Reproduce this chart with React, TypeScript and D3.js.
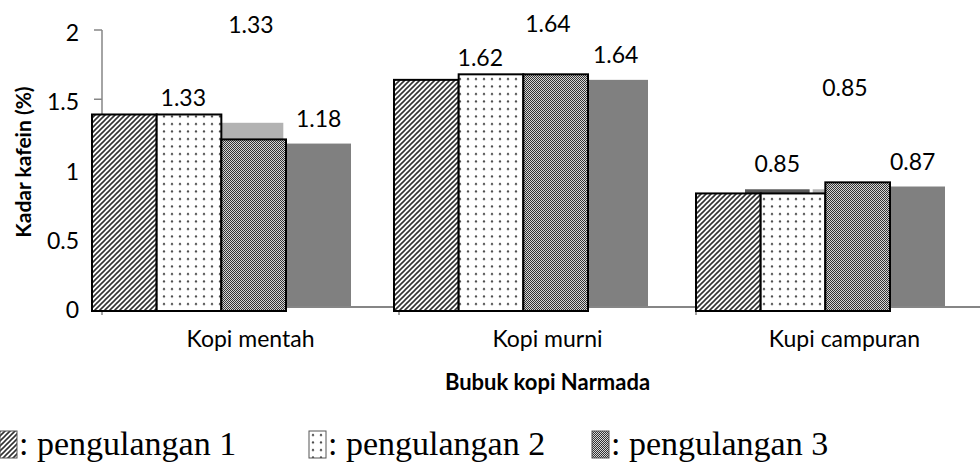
import React from "react";
import * as d3 from "d3";

// Excel bars (grey) underneath the hand drawn patterned boxes
const categories = ["Kopi mentah", "Kopi murni", "Kupi campuran"];
const seriesKeys = ["s1", "s2", "s3"];
const series1 = [1.33, 1.62, 0.85];
const series2 = [1.33, 1.64, 0.85];
const series3 = [1.18, 1.64, 0.87];

// patterned boxes drawn over the bars
const peng1 = [1.39, 1.64, 0.82];
const peng2 = [1.39, 1.68, 0.82];
const peng3 = [1.21, 1.68, 0.9];

const yTicks = [0, 0.5, 1, 1.5, 2];
const legendLabels = [": pengulangan 1", ": pengulangan 2", ": pengulangan 3"];

const W = 980;
const H = 463;
const axisColor = "#868686";
const greyFills = ["#595959", "#b2b2b2", "#808080"];
const patterns = ["url(#hatch)", "url(#dots)", "url(#checker)"];
const labelFont = "Lato, 'Open Sans', sans-serif";

const App = () => {
  const x0 = d3.scaleBand<string>().domain(categories).range([102, 993]);
  const xg = d3.scaleBand<string>().domain(seriesKeys).range([49, 249]).paddingInner(0.045);
  const xo = d3.scaleBand<string>().domain(categories).range([92, 998]);
  const xi = d3.scaleBand<string>().domain(seriesKeys).range([0, 194]);
  const y = d3.scaleLinear().domain([0, 2]).range([307, 30]);

  const grey = [series1, series2, series3];
  const over = [peng1, peng2, peng3];
  // labels of series 2 were dragged upward by hand in the original
  const labelLift = [
    [26, 26, 26],
    [99, 57, 102],
    [26, 26, 26],
  ];

  const legendX = [0, 309, 592];

  return (
    <svg width={W} height={H} style={{ position: "absolute", left: 0, top: 0 }}>
      <defs>
        <pattern id="hatch" patternUnits="userSpaceOnUse" width="5" height="5">
          <rect width="5" height="5" fill="#fff" />
          <path d="M-1,1 l2,-2 M0,5 l5,-5 M4,6 l2,-2" stroke="#333" strokeWidth="1.6" />
        </pattern>
        <pattern id="dots" patternUnits="userSpaceOnUse" width="8" height="7.5">
          <rect width="8" height="7.5" fill="#fff" />
          <circle cx="4" cy="4" r="1.1" fill="#444" />
        </pattern>
        <pattern id="checker" patternUnits="userSpaceOnUse" width="2" height="2">
          <rect width="2" height="2" fill="#d6d6d6" />
          <rect width="1" height="1" fill="#333" />
          <rect x="1" y="1" width="1" height="1" fill="#333" />
        </pattern>
      </defs>

      {/* y axis */}
      <line x1={102} x2={102} y1={y(2)} y2={y(0)} stroke={axisColor} strokeWidth={1.5} />
      {yTicks.map((t) => (
        <g key={t}>
          <line x1={94} x2={102} y1={y(t)} y2={y(t)} stroke={axisColor} strokeWidth={1.5} />
          <text
            x={79}
            y={y(t) + 2}
            textAnchor="end"
            dominantBaseline="central"
            fontFamily={labelFont}
            fontSize={23}
            fill="#000"
          >
            {t}
          </text>
        </g>
      ))}

      {/* grey excel bars */}
      {grey.map((vals, si) =>
        vals.map((v, ci) => (
          <rect
            key={`g${si}${ci}`}
            x={x0(categories[ci])! + xg(seriesKeys[si])!}
            y={y(v)}
            width={xg.bandwidth()}
            height={y(0) - y(v)}
            fill={greyFills[si]}
          />
        ))
      )}

      {/* x axis */}
      <line x1={102} x2={W} y1={y(0)} y2={y(0)} stroke={axisColor} strokeWidth={2} />
      {categories.map((c) => (
        <line
          key={c}
          x1={x0(c)!}
          x2={x0(c)!}
          y1={y(0)}
          y2={y(0) + 8}
          stroke={axisColor}
          strokeWidth={1.5}
        />
      ))}

      {/* patterned boxes */}
      {over.map((vals, si) =>
        vals.map((v, ci) => (
          <rect
            key={`o${si}${ci}`}
            x={xo(categories[ci])! + xi(seriesKeys[si])!}
            y={y(v)}
            width={xi.bandwidth()}
            height={y(0) + 4 - y(v)}
            fill={patterns[si]}
            stroke="#000"
            strokeWidth={2}
          />
        ))
      )}

      {/* data labels */}
      {grey.map((vals, si) =>
        vals.map((v, ci) => (
          <text
            key={`l${si}${ci}`}
            x={x0(categories[ci])! + xg(seriesKeys[si])! + xg.bandwidth() / 2}
            y={y(v) - labelLift[si][ci]}
            textAnchor="middle"
            dominantBaseline="central"
            fontFamily={labelFont}
            fontSize={23}
            fill="#000"
          >
            {v.toFixed(2)}
          </text>
        ))
      )}

      {/* category labels */}
      {categories.map((c) => (
        <text
          key={c}
          x={x0(c)! + x0.bandwidth() / 2}
          y={338}
          textAnchor="middle"
          dominantBaseline="central"
          fontFamily={labelFont}
          fontSize={23}
          fill="#000"
        >
          {c}
        </text>
      ))}

      <text
        x={(102 + 993) / 2}
        y={381}
        textAnchor="middle"
        dominantBaseline="central"
        fontFamily={labelFont}
        fontSize={22}
        fontWeight="bold"
      >
        Bubuk kopi Narmada
      </text>
      <text
        transform="translate(22,162) rotate(-90)"
        textAnchor="middle"
        dominantBaseline="central"
        fontFamily={labelFont}
        fontSize={21}
        fontWeight="bold"
      >
        Kadar kafein (%)
      </text>

      {/* legend */}
      {legendLabels.map((l, i) => (
        <g key={l} transform={`translate(${legendX[i]},431)`}>
          <rect x={0} y={0} width={17} height={27} fill={patterns[i]} stroke="#555" strokeWidth={1} />
          <text
            x={19}
            y={24}
            fontFamily="'Liberation Serif', 'Times New Roman', serif"
            fontSize={34}
            fill="#000"
          >
            {l}
          </text>
        </g>
      ))}
    </svg>
  );
};

export default App;
